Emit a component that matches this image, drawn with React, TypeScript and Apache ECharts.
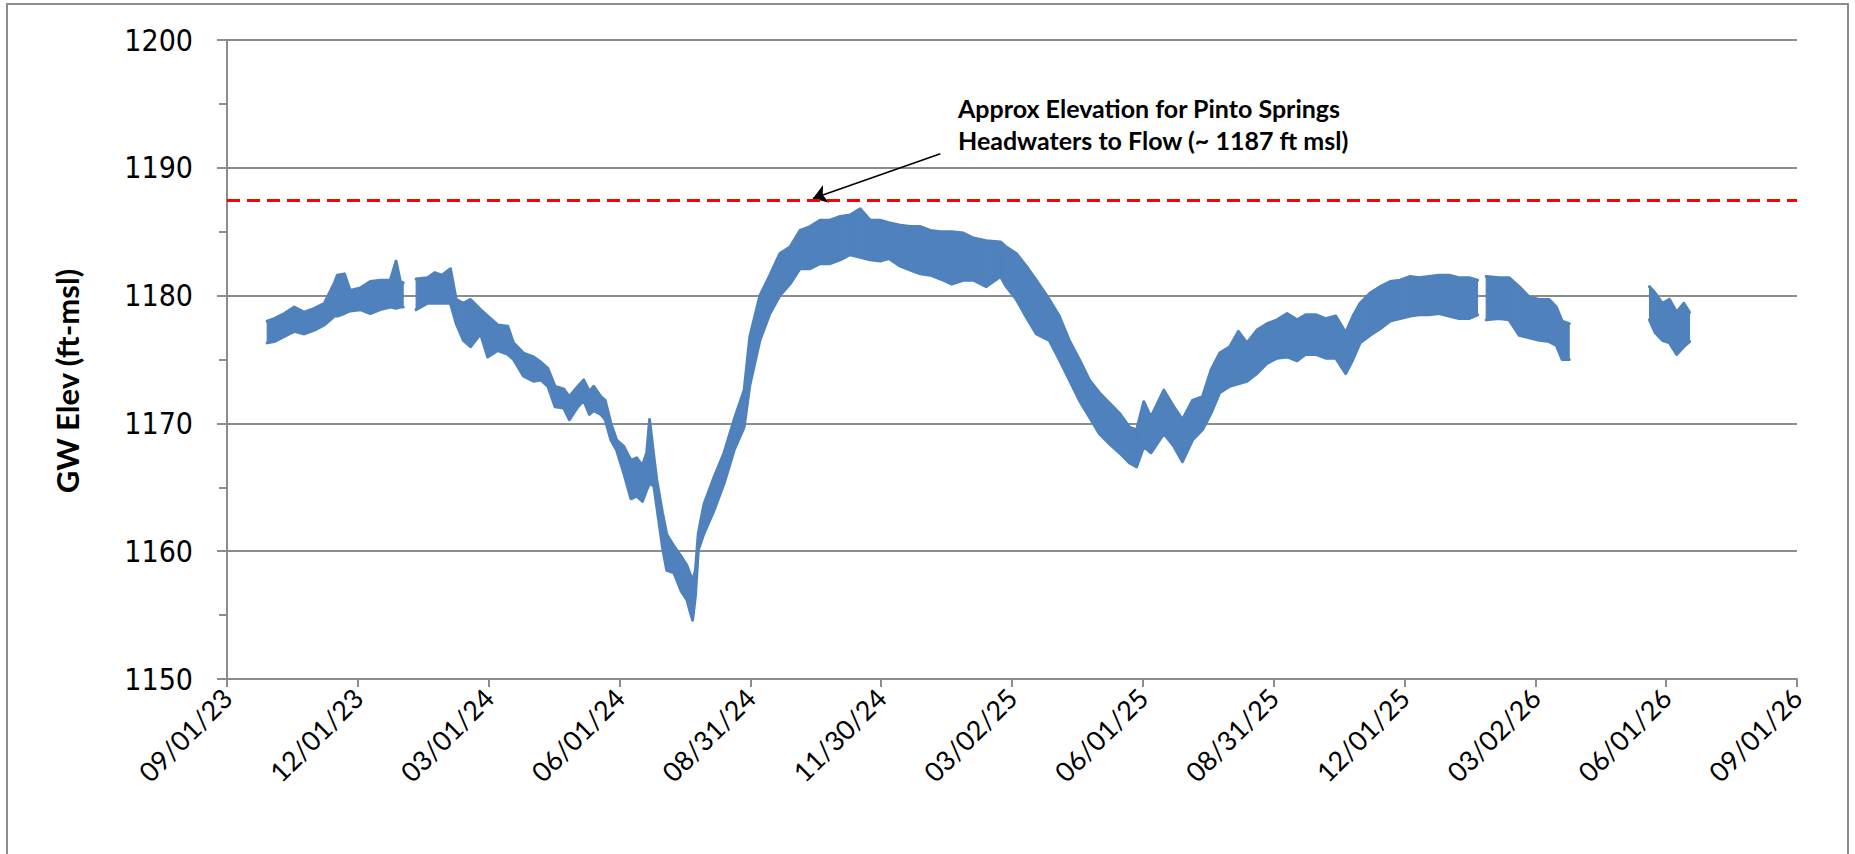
import { useEffect, useRef } from "react";
import * as echarts from "echarts";

// x axis: days since 09/01/23; 12 major ticks spread evenly over 1096 days
const START_UTC = Date.UTC(2023, 8, 1);
const TOTAL_DAYS = 1096;
const TICK_COUNT = 12;
const DAYS_PER_TICK = TOTAL_DAYS / TICK_COUNT;

// Readings (days since 09/01/23), upper and lower envelope of the GW elevation band (ft-msl)
const sampleDays = [
  28, 33, 40, 47, 54, 61, 68, 75, 77, 82, 86, 93, 100, 107, 114, 118, 121, 123, 127,
  132, 140, 145, 150, 156, 160, 165, 170, 177, 182, 189, 196, 200, 207, 214, 219, 224,
  229, 235, 239, 245, 249, 253, 256, 261, 264, 268, 272, 277, 282, 286, 290, 293, 295,
  298, 300, 304, 307, 312, 317, 321, 325, 327, 329, 333, 340, 347, 354, 361, 365, 372,
  379, 386, 393, 400, 407, 414, 421, 428, 435, 442, 449, 456, 462, 470, 477, 484, 491,
  498, 506, 514, 521, 530, 540, 544, 551, 558, 565, 574, 581, 588, 595, 602, 609, 616,
  623, 630, 635, 640, 645, 654, 661, 667, 674, 681, 687, 693, 700, 706, 712, 719, 726,
  733, 740, 747, 753, 760, 767, 774, 781, 786, 791, 798, 805, 812, 819, 826, 832, 839,
  846, 853, 860, 867, 873, 876, 879, 888, 895, 902, 909, 916, 923, 928, 932, 937, 965,
  993, 997, 1002, 1007, 1012, 1017, 1021,
];
const highElev: (number | null)[] = [
  1178.0, 1178.2, 1178.6, 1179.1, 1178.7, 1179.0, 1179.4, 1181.0, 1181.6, 1181.7, 1180.4, 1180.6, 1181.1, 1181.2, 1181.2, 1182.7, 1181.1, 1181.0, null,
  1181.3, 1181.4, 1181.8, 1181.6, 1182.1, 1179.7, 1179.4, 1179.7, 1178.9, 1178.4, 1177.7, 1177.6, 1176.3, 1175.5, 1175.2, 1174.8, 1174.3,
  1172.9, 1172.7, 1172.1, 1172.9, 1173.4, 1172.5, 1172.9, 1172.1, 1171.8, 1170.0, 1168.7, 1168.2, 1167.1, 1167.3, 1166.7, 1167.7, 1170.3,
  1167.4, 1165.6, 1163.0, 1161.3, 1160.4, 1159.6, 1158.9, 1157.7, 1158.5, 1161.4, 1163.7, 1165.8, 1167.7, 1170.3, 1172.6, 1176.8, 1180.0,
  1181.6, 1183.3, 1183.8, 1185.1, 1185.4, 1185.9, 1185.9, 1186.2, 1186.3, 1186.8, 1185.9, 1185.9, 1185.7, 1185.5, 1185.4, 1185.4, 1185.1,
  1185.0, 1185.0, 1184.9, 1184.5, 1184.3, 1184.2, 1183.8, 1183.3, 1182.3, 1181.2, 1179.7, 1178.4, 1176.5, 1175.0, 1173.4, 1172.4, 1171.6,
  1170.8, 1169.7, 1169.5, 1171.7, 1170.5, 1172.6, 1171.3, 1170.3, 1171.8, 1172.1, 1174.2, 1175.5, 1176.0, 1177.2, 1176.3, 1177.3, 1177.8,
  1178.1, 1178.6, 1178.1, 1178.5, 1178.5, 1178.2, 1178.4, 1177.1, 1178.4, 1179.4, 1180.2, 1180.7, 1181.1, 1181.2, 1181.5, 1181.4, 1181.5,
  1181.6, 1181.6, 1181.4, 1181.4, 1181.2, null, 1181.5, 1181.4, 1181.4, 1180.7, 1179.9, 1179.7, 1179.7, 1179.1, 1178.0, 1177.8, null,
  1180.7, 1180.2, 1179.4, 1179.7, 1178.7, 1179.4, 1178.7,
];
const lowElev: (number | null)[] = [
  1176.3, 1176.4, 1176.8, 1177.2, 1177.0, 1177.3, 1177.7, 1178.4, 1178.4, 1178.6, 1178.8, 1178.9, 1178.6, 1178.9, 1179.1, 1179.0, 1179.1, 1179.1, null,
  1178.9, 1179.4, 1179.4, 1179.4, 1179.4, 1177.8, 1176.5, 1176.0, 1177.0, 1175.2, 1175.7, 1175.4, 1175.0, 1173.7, 1173.3, 1173.4, 1172.9,
  1171.3, 1171.2, 1170.3, 1171.3, 1171.8, 1170.7, 1171.0, 1170.7, 1170.3, 1168.7, 1167.9, 1166.1, 1164.1, 1164.3, 1163.9, 1164.8, 1165.3,
  1165.1, 1163.5, 1160.3, 1158.5, 1158.3, 1156.9, 1156.2, 1154.6, 1156.5, 1160.1, 1161.4, 1163.2, 1165.3, 1167.9, 1169.7, 1173.0, 1176.5,
  1178.6, 1180.0, 1180.9, 1182.1, 1182.1, 1182.5, 1182.5, 1182.8, 1183.2, 1183.0, 1182.8, 1182.7, 1182.9, 1182.3, 1182.0, 1181.7, 1181.6,
  1181.3, 1180.9, 1181.2, 1181.2, 1180.7, 1181.5, 1180.7, 1179.7, 1178.3, 1177.0, 1176.5, 1175.0, 1173.4, 1171.8, 1170.5, 1169.2, 1168.4,
  1167.7, 1166.9, 1166.6, 1168.2, 1167.7, 1169.2, 1168.2, 1167.0, 1168.7, 1169.5, 1170.8, 1172.4, 1172.9, 1173.1, 1173.3, 1173.9, 1174.7,
  1175.1, 1175.2, 1174.9, 1175.4, 1175.4, 1175.1, 1175.1, 1173.9, 1175.0, 1176.3, 1176.9, 1177.4, 1178.0, 1178.2, 1178.4, 1178.5, 1178.5,
  1178.6, 1178.4, 1178.2, 1178.2, 1178.5, null, 1178.1, 1178.2, 1178.1, 1176.9, 1176.7, 1176.5, 1176.4, 1176.1, 1175.0, 1175.0, null,
  1178.1, 1177.1, 1176.5, 1176.3, 1175.4, 1176.0, 1176.4,
];

const FLOW_THRESHOLD = 1187.5;
const Y_MIN = 1150;
const Y_MAX = 1200;
const Y_STEP = 10;
const annotationLines = [
  "Approx Elevation for Pinto Springs",
  "Headwaters to Flow (~ 1187 ft msl)",
];
// arrow annotation: [day, elevation] tail -> head
const arrowTail = [498, 1191.1];
const arrowHead = [409, 1187.6];

const BLUE = "#4F81BD";
const GRAY = "#8c8c8c";

function tickToLabel(v: number): string {
  const day = Math.floor(v * DAYS_PER_TICK + 0.01);
  const d = new Date(START_UTC + day * 86400000);
  const mm = String(d.getUTCMonth() + 1).padStart(2, "0");
  const dd = String(d.getUTCDate()).padStart(2, "0");
  const yy = String(d.getUTCFullYear() % 100).padStart(2, "0");
  return `${mm}/${dd}/${yy}`;
}

export default function App() {
  const ref = useRef<HTMLDivElement>(null);

  useEffect(() => {
    if (!ref.current) return;
    const chart = echarts.init(ref.current, undefined, { renderer: "svg" });
    const toX = (day: number) => day / DAYS_PER_TICK;

    const lowData = sampleDays.map((d, i) => [toX(d), lowElev[i] == null ? "-" : lowElev[i]]);
    const highData = sampleDays.map((d, i) => [toX(d), highElev[i] == null ? "-" : highElev[i]]);

    // band segments between consecutive readings: [x0, hi0, lo0, x1, hi1, lo1]
    const bandData: number[][] = [];
    for (let i = 0; i < sampleDays.length - 1; i++) {
      const h0 = highElev[i], l0 = lowElev[i], h1 = highElev[i + 1], l1 = lowElev[i + 1];
      if (h0 == null || l0 == null || h1 == null || l1 == null) continue;
      bandData.push([toX(sampleDays[i]), h0, l0, toX(sampleDays[i + 1]), h1, l1]);
    }

    chart.setOption({
      animation: false,
      backgroundColor: "#ffffff",
      grid: { left: 227, right: 58, top: 40, bottom: 175, containLabel: false },
      xAxis: {
        type: "value",
        min: 0,
        max: TICK_COUNT,
        interval: 1,
        axisLine: { show: true, onZero: false, lineStyle: { color: GRAY, width: 2 } },
        axisTick: { show: true, length: 8, lineStyle: { color: GRAY, width: 2 } },
        splitLine: { show: false },
        axisLabel: {
          rotate: 45,
          margin: 14,
          color: "#000",
          fontFamily: "Lato",
          fontSize: 27,
          formatter: tickToLabel,
        },
      },
      yAxis: {
        type: "value",
        min: Y_MIN,
        max: Y_MAX,
        interval: Y_STEP,
        axisLine: { show: true, lineStyle: { color: GRAY, width: 2 } },
        axisTick: { show: true, length: 10, lineStyle: { color: GRAY, width: 2 } },
        minorTick: { show: true, splitNumber: 2, length: 8, lineStyle: { color: GRAY, width: 2 } },
        splitLine: { show: true, lineStyle: { color: GRAY, width: 2 } },
        axisLabel: {
          margin: 34,
          color: "#000",
          fontFamily: "'DejaVu Sans Condensed', 'DejaVu Sans'",
          fontSize: 30,
          formatter: (v: number) => String(v),
        },
      },
      series: [
        {
          name: "band",
          type: "custom",
          silent: true,
          clip: true,
          z: 2,
          encode: { x: [0, 3], y: [1, 2, 4, 5] },
          data: bandData,
          renderItem: (_params: any, api: any) => {
            const p0 = api.coord([api.value(0), api.value(1)]);
            const p1 = api.coord([api.value(3), api.value(4)]);
            const p2 = api.coord([api.value(3), api.value(5)]);
            const p3 = api.coord([api.value(0), api.value(2)]);
            return {
              type: "polygon",
              shape: { points: [p0, p1, p2, p3] },
              style: { fill: BLUE, stroke: BLUE, lineWidth: 1 },
            };
          },
        },
        {
          name: "GW Elev high",
          type: "line",
          data: highData,
          symbol: "none",
          silent: true,
          lineStyle: { color: BLUE, width: 3, join: "round", cap: "round" },
          z: 3,
          markLine: {
            silent: true,
            symbol: ["none", "arrow"],
            symbolSize: 14,
            label: { show: false },
            lineStyle: { color: "#000", width: 1.5, type: "solid" },
            data: [
              [
                { coord: [toX(arrowTail[0]), arrowTail[1]] },
                { coord: [toX(arrowHead[0]), arrowHead[1]] },
              ],
            ],
          },
        },
        {
          name: "GW Elev low",
          type: "line",
          data: lowData,
          symbol: "none",
          silent: true,
          lineStyle: { color: BLUE, width: 3, join: "round", cap: "round" },
          z: 3,
          markLine: {
            silent: true,
            symbol: "none",
            label: { show: false },
            lineStyle: { color: "#ff0000", width: 3, type: [13, 7] },
            data: [{ yAxis: FLOW_THRESHOLD }],
          },
        },
      ],
      graphic: [
        {
          type: "rect",
          silent: true,
          z: 0,
          shape: { x: 7, y: 4, width: 1841, height: 900 },
          style: { fill: "none", stroke: GRAY, lineWidth: 2 },
        },
        {
          type: "text",
          silent: true,
          x: 67,
          y: 381,
          rotation: Math.PI / 2,
          style: {
            text: "GW Elev (ft-msl)",
            align: "center",
            verticalAlign: "middle",
            fontFamily: "Lato",
            fontWeight: "bold",
            fontSize: 31,
            fill: "#000",
          },
        },
        {
          type: "text",
          silent: true,
          x: 958,
          y: 92,
          style: {
            text: annotationLines.join("\n"),
            fontFamily: "Lato",
            fontWeight: "bold",
            fontSize: 25,
            lineHeight: 32,
            fill: "#000",
          },
        },
      ],
    });
    return () => chart.dispose();
  }, []);

  return (
    <div
      ref={ref}
      style={{ position: "absolute", left: 0, top: 0, width: 1855, height: 854, background: "#fff" }}
    />
  );
}
